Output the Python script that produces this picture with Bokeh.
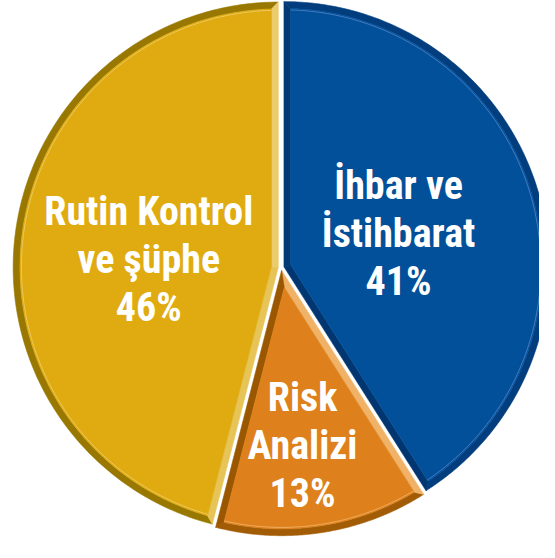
import numpy as np
from bokeh.plotting import figure
from bokeh.models import Range1d
from bokeh.embed import file_html
from bokeh.resources import INLINE
from bokeh.core.properties import value

# ---- data ----
categories = ["İhbar ve\nİstihbarat", "Risk\nAnalizi", "Rutin Kontrol\nve şüphe"]
shares = [41, 13, 46]

# ---- style ----
fill_colors = ["#03509A", "#DE811D", "#E0AB11"]
rim_colors = ["#023D7E", "#A25C06", "#987800"]
start_edge_colors = ["#023A76", "#EFB266", "#E6C457"]
end_edge_colors = ["#013670", "#9A5700", "#EBCB6C"]
highlight_colors = ["#5F8FCF", "#F6C27E", "#F1D47E"]
label_r = [0.46, 0.68, 0.50]
label_turn = [-0.5, -2.2, 4.2]
label_drop = -1.0

W, H = 539, 542
p = figure(width=W, height=H, x_range=Range1d(0, 555), y_range=Range1d(0, 558),
           output_backend="svg", toolbar_location=None, min_border=0)
p.axis.visible = False
p.grid.visible = False
p.outline_line_color = None
p.background_fill_color = "white"
p.border_fill_color = "white"

cx, cy, R = 289.0, 283.0, 273.0
explode = 3.0
d = 7.0

vals = np.array(shares, dtype=float)
fr = vals / vals.sum()
cum = np.concatenate([[0.0], np.cumsum(fr)])


def arc(c, r, a0, a1, n=200):
    t = np.linspace(a0, a1, n)
    return list(c[0] + r * np.cos(t)), list(c[1] + r * np.sin(t))


xs_all, ys_all, cols = [], [], []
hl_x, hl_y, hl_c = [], [], []
label_x, label_y, label_t = [], [], []

for i in range(len(vals)):
    a_s = np.pi / 2 - 2 * np.pi * cum[i]
    a_e = np.pi / 2 - 2 * np.pi * cum[i + 1]
    am = (a_s + a_e) / 2
    h = (a_s - a_e) / 2
    um = np.array([np.cos(am), np.sin(am)])
    C = np.array([cx, cy]) + explode * um
    s = d / np.sin(h)
    P = C + s * um
    v = P - C

    def hit(a):
        u = np.array([np.cos(a), np.sin(a)])
        vu = v @ u
        t = -vu + np.sqrt(vu ** 2 - v @ v + (R - d) ** 2)
        Q = P + t * u
        return Q, np.arctan2(Q[1] - C[1], Q[0] - C[0])

    Qs, bs = hit(a_s)
    Qe, be = hit(a_e)
    if be > bs:
        be -= 2 * np.pi
    us = np.array([np.cos(a_s), np.sin(a_s)])
    ue = np.array([np.cos(a_e), np.sin(a_e)])

    ox, oy = arc(C, R, a_s, a_e)
    ix, iy = arc(C, R - d, be, bs)
    xs_all.append(ox + ix); ys_all.append(oy + iy); cols.append(rim_colors[i])
    Os = C + R * us
    xs_all.append([C[0], Os[0], Qs[0], P[0]]); ys_all.append([C[1], Os[1], Qs[1], P[1]])
    cols.append(start_edge_colors[i])
    Oe = C + R * ue
    xs_all.append([C[0], Oe[0], Qe[0], P[0]]); ys_all.append([C[1], Oe[1], Qe[1], P[1]])
    cols.append(end_edge_colors[i])
    fx, fy = arc(C, R - d, bs, be)
    xs_all.append([P[0], Qs[0]] + fx + [Qe[0]]); ys_all.append([P[1], Qs[1]] + fy + [Qe[1]])
    cols.append(fill_colors[i])

    hx, hy = arc(C, R - d - 1.5, bs, be)
    hl_x.append(hx); hl_y.append(hy); hl_c.append(highlight_colors[i])

    la = am + np.deg2rad(label_turn[i])
    lr = label_r[i] * R
    label_x.append(cx + lr * np.cos(la))
    label_y.append(cy + lr * np.sin(la) - label_drop)
    label_t.append(f"{categories[i]}\n{shares[i]}%")

p.patches(xs_all, ys_all, fill_color=cols, line_color=cols, line_width=0.6)
p.multi_line(hl_x, hl_y, line_color=hl_c, line_width=1, line_alpha=0.7)

p.text(x=label_x, y=label_y, text=label_t, text_color="white",
       text_font=value("Roboto Condensed, DejaVu Sans Condensed"), text_font_style="bold",
       text_font_size="40px", text_align="center", text_baseline="middle",
       text_line_height=1.02)

open("out.html", "w").write(file_html(p, INLINE))
